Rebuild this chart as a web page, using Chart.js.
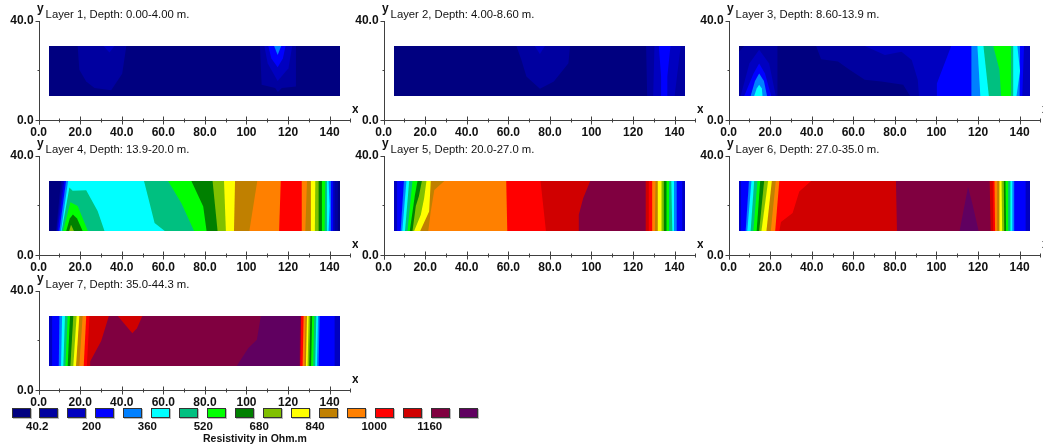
<!DOCTYPE html>
<html>
<head>
<meta charset="utf-8">
<title>Resistivity layers</title>
<script src="https://cdn.jsdelivr.net/npm/chart.js@4"></script>
<style>
  html, body { margin: 0; padding: 0; background: #fff; overflow: hidden; }
  #page { position: relative; width: 1043px; height: 445px; overflow: hidden; font-family: "Liberation Sans", Arial, sans-serif; color: #111; }
  #page canvas { position: absolute; }
  .swatch { position: absolute; top: 408px; width: 17px; height: 8px; border: 1px solid #333; box-shadow: 1px 1px 0 #bbb; }
  .legend-label { position: absolute; top: 420px; font: bold 11.5px "Liberation Sans", Arial, sans-serif; white-space: nowrap; }
  #legend-title { position: absolute; left: 203px; top: 432px; font: bold 10.5px "Liberation Sans", Arial, sans-serif; white-space: nowrap; }
</style>
</head>
<body>
<div id="page"></div>
<script>
// colour bands, lowest resistivity first
const bandColors = ['#000080', '#0000A0', '#0000C0', '#0000FF', '#0080FF', '#00FFFF', '#00C080', '#00FF00', '#008000',
  '#80C000', '#FFFF00', '#C08000', '#FF8000', '#FF0000', '#D00000', '#800040', '#600060'];
const legendLabels = ['40.2', '200', '360', '520', '680', '840', '1000', '1160'];
const legendTitle = 'Resistivity in Ohm.m';

const layerTitles = ['Layer 1, Depth: 0.00-4.00 m.', 'Layer 2, Depth: 4.00-8.60 m.', 'Layer 3, Depth: 8.60-13.9 m.',
  'Layer 4, Depth: 13.9-20.0 m.', 'Layer 5, Depth: 20.0-27.0 m.', 'Layer 6, Depth: 27.0-35.0 m.', 'Layer 7, Depth: 35.0-44.3 m.'];

const xTickValues = [0, 20, 40, 60, 80, 100, 120, 140];
const xTickLabels = ['0.0', '20.0', '40.0', '60.0', '80.0', '100', '120', '140'];
const yTickValues = [0, 40];
const yTickLabels = ['0.0', '40.0'];

// contour regions, [band, x,y, x,y, ...] in metres, painted in this order
const layer1 = [
  [0, 5,30, 5,10, 145,10, 145,30],
  [1, 18.8,30, 19.6,20.5, 22.9,15.8, 26.9,13.2, 34.9,12.3, 40.2,18.9, 42.2,30],
  [2, 31.2,30, 34.1,27.4, 36.5,30],
  [1, 106.5,30, 107.3,14.5, 113.8,13.2, 115.1,11.6, 117,13.2, 123.8,13.8, 123.8,30],
  [2, 108.6,30, 110.2,23.1, 115,16, 120.2,21.1, 122,30],
  [3, 110.5,30, 112,25, 115,21.5, 117.5,25, 118.8,30],
  [4, 113.3,30, 115,26.4, 116.7,30]
];
const layer2 = [
  [0, 5,30, 5,10, 145,10, 145,30],
  [1, 63.9,30, 66.3,24.4, 68.7,17.8, 75.2,12.9, 81.9,15.8, 88.9,23.1, 89.7,30],
  [2, 72.7,30, 75.2,26.8, 77.6,30],
  [1, 126.3,30, 126.8,10, 145,10, 145,30],
  [2, 130.3,30, 129.7,10, 140,10, 142.9,30],
  [3, 132.4,30, 133.5,17.8, 133.5,10, 136.5,10, 136.5,17.8, 138,30]
];
const layer3 = [
  [1, 5,30, 5,10, 145,10, 145,30],
  [0, 5,30, 7.5,30, 5,27.7],
  [0, 23.5,30, 42.1,30, 44.5,24.7, 52.6,23.8, 58.2,20.5, 65.5,16.5, 73.5,15.8, 84,14.5, 87.3,10, 23.5,10],
  [2, 65.5,30, 75.2,26.4, 83.2,27.7, 88.1,24.4, 91,16.5, 91.6,10, 145,10, 145,30],
  [3, 107.1,30, 100.2,15, 100.2,10, 141.3,10, 142.1,30],
  [4, 116.8,30, 116.8,10, 140,10, 140.2,30],
  [5, 119.7,30, 121.1,10, 138.5,10, 140.2,20, 138.9,30],
  [6, 122.6,30, 125.2,10, 136.9,10, 136.9,30],
  [7, 127.3,30, 130.3,20.5, 131.1,10, 135.6,10, 135.8,30],
  [2, 5.8,10, 10,23, 14.7,28.5, 19.5,23, 22.7,10],
  [3, 7.5,10, 12,19, 14.7,23, 17.5,19, 20.5,10],
  [4, 10.6,10, 12.7,16, 14.7,19, 17,16, 18.5,10],
  [5, 12.3,10, 13.5,13, 14.7,14.5, 16,13, 16.3,10]
];
const layer4 = [
  [0, 5,30, 5,10, 145,10, 145,30],
  [1, 10.8,30, 8.4,10, 143.9,10, 143.9,30],
  [2, 11.6,30, 8.7,10, 142.4,10, 142.4,30],
  [3, 12.4,30, 9.2,10, 141.6,10, 141.6,30],
  [4, 13.2,30, 10,10, 140.6,10, 140.6,30],
  [5, 14.2,30, 10.8,10, 139.5,10, 140,20, 139.5,30],
  [6, 11.1,10, 14.8,27.4, 16.4,26.1, 22.9,26.3, 28.4,18, 31.7,10],
  [7, 11.8,10, 15.3,21.5, 18.8,20, 23.7,10],
  [8, 13.3,10, 15,15, 16.5,16.6, 18.5,15, 21.2,10],
  [9, 14.7,10, 15.6,12.5, 17,10],
  [6, 50.7,30, 52.6,23.8, 55.8,13.2, 60.7,10, 138.7,10, 138.7,30],
  [7, 62.3,30, 68.7,21.1, 74.8,10, 137.6,10, 137.9,30],
  [8, 73.5,30, 79.2,19.8, 80.8,10, 136.3,10, 136.3,30],
  [9, 83.7,30, 86.1,10, 134.7,10, 134.7,30],
  [10, 89.2,30, 90.1,10, 132.9,10, 133.1,30],
  [11, 94.5,30, 94,10, 130.7,10, 131,30],
  [12, 105.2,30, 101.4,10, 128.3,10, 129.1,30],
  [13, 116.5,30, 115.7,10, 126.3,10, 126.6,30]
];
const layer5 = [
  [2, 5,30, 5,10, 145,10, 145,30],
  [3, 6.5,30, 6.5,10, 143.7,10, 143.7,30],
  [4, 9.8,30, 8.2,10, 141,10, 141,30],
  [5, 11,30, 9,10, 139.7,10, 139.7,30],
  [6, 12.3,30, 10.3,10, 138.9,10, 138.4,30],
  [7, 13.9,30, 11.5,10, 137.3,10, 137.3,30],
  [8, 16.3,30, 15,24, 12.6,10, 136.1,10, 136.1,30],
  [9, 18.4,30, 17,24, 15.5,20, 13.9,10, 134.8,10, 134.8,30],
  [10, 20.6,30, 19.5,23.1, 17.9,16.5, 14.7,10, 133.7,10, 133.7,30],
  [11, 22.7,30, 21.9,17.8, 17.6,10, 131.6,10, 131.9,30],
  [12, 29.2,30, 24.4,26.4, 22.7,17.8, 21.5,10, 130.5,10, 130.8,30],
  [13, 59,30, 59.5,10, 129.2,10, 129.2,30],
  [14, 75.5,30, 78.1,10, 127.6,10, 127.6,30],
  [15, 99.4,30, 96,23.1, 93.9,16.5, 93.9,10, 126.1,10, 126.1,30]
];
const layer6 = [
  [2, 5,30, 5,10, 145,10, 145,30],
  [3, 6,30, 6,10, 142.9,10, 142.9,30],
  [4, 9.8,30, 8.2,10, 137.3,10, 137.4,30],
  [5, 11,30, 9,10, 136.5,10, 136.5,30],
  [6, 12.3,30, 10.6,10, 135.6,10, 135.6,30],
  [7, 13.9,30, 11.9,10, 134.5,10, 134.5,30],
  [8, 15.2,30, 13.5,10, 133.5,10, 133.2,30],
  [9, 17.1,30, 14.7,10, 132.6,10, 132.4,30],
  [10, 19,30, 15.8,10, 131.6,10, 131.3,30],
  [11, 20.8,30, 18.2,10, 130.3,10, 130.3,30],
  [12, 22.7,30, 20.3,10, 129.4,10, 129.2,30],
  [13, 24.4,30, 22.4,10, 128.2,10, 127.9,30],
  [14, 39.7,30, 34,25.8, 30.8,17.2, 25.2,13.6, 24.4,10, 127.3,10, 127.1,30],
  [15, 80.5,30, 81,10, 126.1,10, 125.6,30],
  [16, 115.2,27.7, 111.1,10, 120.3,10, 117.4,20.5]
];
const layer7 = [
  [2, 5,30, 5,10, 145,10, 145,30],
  [3, 6.5,30, 6.5,10, 142.4,10, 142.4,30],
  [4, 10,30, 9.7,10, 134.7,10, 135.2,30],
  [5, 11.3,30, 10.8,10, 133.9,10, 134.4,30],
  [6, 12.7,30, 11.9,10, 133.1,10, 133.6,30],
  [7, 14,30, 12.9,10, 132.1,10, 132.6,30],
  [8, 15.1,30, 14,10, 131.1,10, 131.6,30],
  [9, 16.7,30, 15.3,10, 130.2,10, 130.7,30],
  [10, 18.3,30, 16.7,10, 129.4,10, 129.9,30],
  [11, 19.6,30, 18,10, 128.6,10, 129.1,30],
  [12, 21.2,30, 19.6,10, 127.9,10, 128.4,30],
  [13, 22.9,30, 21.7,10, 127,10, 127.5,30],
  [14, 24.5,30, 23.2,10, 125.8,10, 126.3,30],
  [15, 33.8,30, 30.1,20, 24.8,11.8, 24.8,10, 125.8,10, 126.3,30],
  [14, 38.1,30, 45.1,23.1, 47.3,25.1, 49.9,30],
  [16, 106.9,30, 105,20.5, 100.9,17.2, 95.3,10, 125.5,10, 125.8,30]
];
const layers = [layer1, layer2, layer3, layer4, layer5, layer6, layer7];

const AXIS_COLOR = '#404040';
const TEXT_COLOR = '#111';
const FONT = '"Liberation Sans", Arial, sans-serif';

// canvas placement of the panels: 3 columns, 3 rows
// the plot box is chosen so x 5..145 and y 10..30 land on whole pixels
const PANEL_W = 358;
const PANEL_H = 140;
const AXIS_LEFT = 38.6;
const AXIS_TOP = 21;
const AXIS_RIGHT = 350.4;
const AXIS_BOTTOM = 121;
const columnLefts = [0, 345, 690];
const rowTops = [0, 135, 270];

/**
 * Turn one contour region into a closed, filled dataset
 */
function regionDataset(region) {
  const [band, ...coords] = region;
  const data = [];
  for (let i = 0; i < coords.length; i += 2) {
    data.push({ x: coords[i], y: coords[i + 1] });
  }
  data.push(data[0]);
  return {
    data,
    showLine: true,
    fill: 'shape',
    backgroundColor: bandColors[band],
    borderWidth: 0,
    pointRadius: 0,
    tension: 0
  };
}

// axis lines, crossing tick marks and the panel's captions
const panelDecor = {
  id: 'panelDecor',
  afterDraw(chart, args, opts) {
    const { ctx, chartArea, scales } = chart;
    const axisX = Math.round(chartArea.left) + 0.5;
    const axisY = chartArea.bottom - 0.5;
    ctx.save();
    ctx.strokeStyle = AXIS_COLOR;
    ctx.lineWidth = 1;
    ctx.beginPath();
    ctx.moveTo(axisX, chartArea.top);
    ctx.lineTo(axisX, axisY + 4);
    ctx.moveTo(axisX, axisY);
    ctx.lineTo(chartArea.right, axisY);
    for (let v = 0; v <= 150; v += 10) {
      const px = Math.round(scales.x.getPixelForValue(v)) + 0.5;
      const reach = v % 20 === 0 ? 4 : 2;
      ctx.moveTo(px, axisY - reach);
      ctx.lineTo(px, axisY + reach);
    }
    for (let v = 0; v <= 40; v += 20) {
      const py = Math.round(scales.y.getPixelForValue(v)) - 0.5 + (v === 40 ? 1 : 0);
      ctx.moveTo(axisX - (v === 20 ? 2 : 4), py);
      ctx.lineTo(axisX, py);
    }
    ctx.stroke();

    ctx.fillStyle = TEXT_COLOR;
    ctx.textBaseline = 'middle';
    ctx.textAlign = 'left';
    ctx.font = '11.3px ' + FONT;
    ctx.fillText(layerTitleFor(opts), chartArea.left + 7, 15);
    ctx.font = 'bold 12px ' + FONT;
    ctx.fillText('y', chartArea.left - 1.5, 9);
    ctx.fillText('x', chartArea.left + 313.5, 110);
    ctx.restore();
  }
};

function layerTitleFor(opts) {
  return layerTitles[opts.index];
}

function renderPanel(regions, index) {
  const canvas = document.createElement('canvas');
  canvas.width = PANEL_W;
  canvas.height = PANEL_H;
  canvas.style.left = columnLefts[index % 3] + 'px';
  canvas.style.top = rowTops[Math.floor(index / 3)] + 'px';
  document.getElementById('page').appendChild(canvas);

  const tickFont = { family: FONT, size: 12, weight: 'bold' };

  new Chart(canvas.getContext('2d'), {
    type: 'scatter',
    // the filler paints the last dataset first
    data: { datasets: regions.map(regionDataset).reverse() },
    plugins: [panelDecor],
    options: {
      responsive: false,
      animation: false,
      layout: { padding: { top: AXIS_TOP, right: PANEL_W - AXIS_RIGHT, left: 0, bottom: 0 } },
      plugins: {
        legend: { display: false },
        tooltip: { enabled: false },
        panelDecor: { index }
      },
      scales: {
        x: {
          type: 'linear',
          min: 0,
          max: 150,
          grid: { display: false, drawTicks: false },
          border: { display: false },
          afterFit: scale => { scale.height = PANEL_H - AXIS_BOTTOM; },
          afterBuildTicks: scale => { scale.ticks = xTickValues.map(value => ({ value })); },
          ticks: {
            autoSkip: false,
            maxRotation: 0,
            padding: 4,
            color: TEXT_COLOR,
            font: tickFont,
            callback: value => xTickLabels[xTickValues.indexOf(value)]
          }
        },
        y: {
          type: 'linear',
          min: 0,
          max: 40,
          grid: { display: false, drawTicks: false },
          border: { display: false },
          afterFit: scale => { scale.width = AXIS_LEFT; },
          afterBuildTicks: scale => { scale.ticks = yTickValues.map(value => ({ value })); },
          ticks: {
            padding: 5,
            color: TEXT_COLOR,
            font: tickFont,
            callback: value => yTickLabels[yTickValues.indexOf(value)]
          }
        }
      }
    }
  });
}

function renderLegend() {
  const page = document.getElementById('page');
  bandColors.forEach((color, i) => {
    const swatch = document.createElement('div');
    swatch.className = 'swatch';
    swatch.style.left = (11.5 + i * 27.95) + 'px';
    swatch.style.background = color;
    page.appendChild(swatch);
  });
  legendLabels.forEach((text, i) => {
    const label = document.createElement('div');
    label.className = 'legend-label';
    label.style.left = (26 + i * 55.9) + 'px';
    label.textContent = text;
    page.appendChild(label);
  });
  const title = document.createElement('div');
  title.id = 'legend-title';
  title.textContent = legendTitle;
  page.appendChild(title);
}

layers.forEach(renderPanel);
renderLegend();
</script>
</body>
</html>
